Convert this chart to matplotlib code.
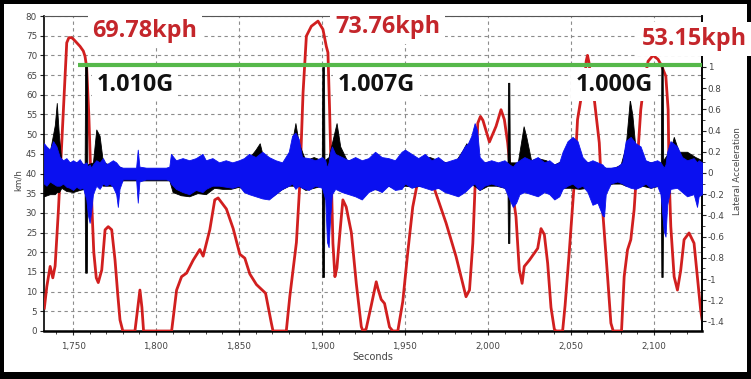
import matplotlib
matplotlib.use("Agg")
import matplotlib.pyplot as plt
from matplotlib.patches import Rectangle
from matplotlib.ticker import FuncFormatter, MultipleLocator, FixedLocator
import numpy as np

# ---------------- data ----------------
speed_t = [1732.7, 1734.2, 1736.2, 1737.8, 1739.2, 1741.2, 1743.2, 1745.2, 1746.2, 1747.5,
           1749.2, 1750.5, 1752.2, 1754.2, 1756.2, 1757.2, 1758.2, 1759.5, 1760.5, 1761.5,
           1762.5, 1764.0, 1765.2, 1767.3, 1769.3, 1771.2, 1773.3, 1775.3, 1777.0, 1778.3,
           1780.0, 1787.3, 1789.0, 1790.3, 1791.5, 1792.5, 1809.4, 1812.4, 1815.4, 1818.4,
           1822.4, 1826.4, 1828.4, 1832.4, 1835.4, 1837.4, 1842.4, 1846.5, 1850.5, 1853.5,
           1856.5, 1860.5, 1866.0, 1869.5, 1870.5, 1878.5, 1880.6, 1882.6, 1884.6, 1886.6,
           1888.6, 1890.6, 1893.6, 1897.6, 1900.6, 1902.6, 1903.6, 1904.6, 1905.6, 1906.6,
           1907.8, 1909.0, 1910.6, 1912.6, 1914.6, 1917.7, 1920.7, 1923.7, 1924.7, 1926.6,
           1929.7, 1932.7, 1933.7, 1935.7, 1937.7, 1940.7, 1942.7, 1945.7, 1948.7, 1951.7,
           1954.7, 1957.7, 1960.0, 1963.0, 1965.0, 1967.8, 1974.8, 1980.8, 1984.8, 1986.8,
           1988.9, 1990.9, 1992.5, 1993.9, 1995.5, 1997.0, 2000.9, 2004.9, 2007.9, 2009.9,
           2011.9, 2014.9, 2016.9, 2018.9, 2020.6, 2021.9, 2025.0, 2030.0, 2032.0, 2034.0,
           2036.0, 2038.0, 2040.0, 2041.0, 2045.0, 2046.5, 2049.0, 2052.0, 2054.0, 2056.0,
           2058.1, 2059.2, 2060.0, 2061.0, 2062.3, 2064.1, 2067.1, 2069.1, 2072.1, 2074.1,
           2075.5, 2080.5, 2082.1, 2084.1, 2086.1, 2088.1, 2090.1, 2092.1, 2094.1, 2096.5,
           2099.5, 2102.5, 2104.5, 2107.2, 2108.6, 2109.2, 2110.2, 2112.2, 2114.2, 2116.2,
           2118.2, 2121.2, 2124.2, 2126.2, 2128.2, 2129.0]
speed_kmh = [5.8, 11.3, 16.4, 13.5, 16.5, 30.8, 47.8, 64.7, 73.2, 74.5,
             74.5, 74.0, 73.2, 72.3, 71.1, 69.8, 67.0, 55.0, 42.0, 30.0,
             20.0, 13.5, 12.3, 15.5, 25.7, 26.5, 25.7, 18.0, 9.0, 2.8,
             0.0, 0.0, 6.0, 10.4, 6.0, 0.0, 0.0, 10.4, 13.8, 14.7,
             18.0, 20.7, 19.0, 25.7, 33.3, 33.8, 31.0, 26.0, 19.5, 18.5,
             14.5, 11.8, 9.6, 2.0, 0.0, 0.0, 8.7, 15.5, 22.5, 37.0,
             60.5, 74.9, 77.4, 78.7, 76.6, 72.3, 70.7, 56.2, 39.3, 22.3,
             13.8, 16.0, 24.0, 33.3, 31.5, 25.0, 12.0, 1.1, 0.0, 0.5,
             6.5, 12.5, 10.8, 8.0, 7.0, 1.0, 0.0, 0.0, 7.5, 20.0,
             31.5, 38.0, 42.0, 43.0, 41.0, 36.0, 27.4, 18.9, 12.1, 8.7,
             10.4, 22.3, 39.3, 52.8, 54.5, 53.5, 48.0, 52.0, 56.2, 53.7,
             47.8, 35.0, 29.1, 15.5, 12.1, 16.4, 18.0, 21.0, 26.0, 24.5,
             17.2, 6.0, 0.5, 0.0, 0.0, 6.5, 20.0, 37.5, 53.7, 58.8,
             62.0, 68.5, 70.0, 68.0, 62.0, 58.8, 47.8, 30.8, 13.8, 2.0,
             0.0, 0.0, 13.8, 20.6, 23.2, 30.8, 43.5, 56.2, 63.0, 68.5,
             70.0, 69.0, 67.5, 64.7, 56.2, 39.3, 26.5, 13.8, 10.4, 15.5,
             23.2, 24.9, 22.3, 13.8, 5.3, 3.0]

blue_t = [1732.5, 1734, 1736, 1738, 1740, 1742, 1744, 1746, 1748, 1750,
          1752, 1754, 1756, 1758, 1759, 1760, 1761, 1762, 1764, 1766,
          1768, 1770, 1772, 1774, 1776, 1777, 1778, 1780, 1784, 1788,
          1789, 1790, 1794, 1800, 1806, 1808, 1809, 1812, 1816, 1820,
          1824, 1828, 1830, 1834, 1838, 1842, 1846, 1850, 1853, 1856,
          1860, 1864, 1868, 1872, 1876, 1880, 1882, 1884, 1886, 1888,
          1892, 1896, 1900, 1902, 1903, 1904, 1905, 1906, 1908, 1912,
          1916, 1920, 1924, 1928, 1932, 1936, 1940, 1944, 1948, 1950,
          1954, 1958, 1962, 1966, 1970, 1974, 1978, 1982, 1986, 1988,
          1990, 1992, 1993.5, 1995, 1998, 2002, 2006, 2010, 2013, 2015,
          2017, 2019, 2022, 2026, 2030, 2034, 2037, 2040, 2043, 2045,
          2048, 2051, 2054, 2057, 2060, 2063, 2066, 2069, 2070, 2071,
          2074, 2078, 2081, 2083, 2086, 2089, 2092, 2095, 2098, 2102,
          2104, 2106, 2107, 2108, 2110, 2114, 2117, 2120, 2124, 2126,
          2127, 2129]
blue_hi = [0.28, 0.25, 0.22, 0.30, 0.25, 0.15, 0.12, 0.14, 0.10, 0.12,
           0.10, 0.13, 0.08, 0.10, 0.06, 0.08, 0.05, 0.08, 0.12, 0.10,
           0.14, 0.08, 0.10, 0.12, 0.10, 0.08, 0.06, 0.05, 0.05, 0.05,
           0.22, 0.06, 0.05, 0.05, 0.05, 0.06, 0.18, 0.12, 0.14, 0.12,
           0.14, 0.18, 0.12, 0.14, 0.10, 0.12, 0.10, 0.12, 0.14, 0.18,
           0.15, 0.20, 0.15, 0.12, 0.10, 0.20, 0.35, 0.38, 0.32, 0.15,
           0.14, 0.12, 0.15, 0.12, 0.05, 0.10, 0.20, 0.25, 0.18, 0.15,
           0.12, 0.15, 0.12, 0.14, 0.20, 0.15, 0.14, 0.12, 0.20, 0.22,
           0.18, 0.14, 0.18, 0.12, 0.15, 0.10, 0.12, 0.14, 0.25, 0.28,
           0.35, 0.47, 0.40, 0.15, 0.10, 0.12, 0.10, 0.12, 0.08, 0.06,
           0.10, 0.12, 0.15, 0.12, 0.15, 0.10, 0.12, 0.08, 0.10, 0.20,
           0.30, 0.34, 0.30, 0.15, 0.10, 0.12, 0.10, 0.08, 0.06, 0.05,
           0.05, 0.06, 0.10, 0.30, 0.34, 0.28, 0.25, 0.12, 0.10, 0.12,
           0.10, 0.05, 0.08, 0.20, 0.30, 0.25, 0.15, 0.12, 0.14, 0.10,
           0.12, 0.10]
blue_lo = [-0.10, -0.12, -0.08, -0.10, -0.12, -0.12, -0.10, -0.13, -0.14, -0.16,
           -0.13, -0.15, -0.14, -0.25, -0.40, -0.47, -0.35, -0.20, -0.12, -0.15,
           -0.10, -0.12, -0.10, -0.13, -0.20, -0.32, -0.15, -0.06, -0.06, -0.06,
           -0.28, -0.08, -0.06, -0.06, -0.06, -0.07, -0.10, -0.15, -0.18, -0.20,
           -0.16, -0.18, -0.15, -0.12, -0.12, -0.13, -0.14, -0.12, -0.18, -0.20,
           -0.22, -0.24, -0.25, -0.20, -0.15, -0.12, -0.10, -0.15, -0.12, -0.14,
           -0.16, -0.12, -0.14, -0.25, -0.65, -0.70, -0.40, -0.20, -0.15, -0.18,
           -0.20, -0.22, -0.25, -0.18, -0.15, -0.18, -0.12, -0.16, -0.15, -0.10,
           -0.14, -0.12, -0.14, -0.16, -0.14, -0.18, -0.20, -0.22, -0.18, -0.15,
           -0.12, -0.10, -0.14, -0.16, -0.12, -0.10, -0.12, -0.14, -0.25, -0.32,
           -0.28, -0.20, -0.18, -0.20, -0.22, -0.18, -0.20, -0.25, -0.22, -0.15,
           -0.12, -0.10, -0.14, -0.12, -0.18, -0.30, -0.28, -0.40, -0.41, -0.20,
           -0.10, -0.08, -0.10, -0.12, -0.14, -0.15, -0.13, -0.10, -0.14, -0.12,
           -0.20, -0.55, -0.60, -0.30, -0.15, -0.14, -0.18, -0.22, -0.20, -0.32,
           -0.22, -0.20]

black_t = [1732.5, 1736, 1739, 1740.2, 1741.5, 1743, 1746, 1750, 1754, 1757.0,
           1757.3, 1758.3, 1758.6, 1762, 1764, 1766, 1768, 1772, 1776, 1780,
           1789, 1800, 1808, 1810, 1815, 1820, 1825, 1830, 1835, 1840,
           1845, 1850, 1855, 1860, 1862.5, 1865, 1870, 1875, 1880, 1884,
           1886, 1890, 1895, 1899.9, 1900.2, 1901.2, 1901.5, 1904, 1908.8, 1911,
           1915, 1920, 1925, 1930, 1935, 1940, 1945, 1950, 1955, 1960,
           1965, 1970, 1975, 1980, 1985, 1987, 1990, 1995, 2000, 2005,
           2010, 2011.8, 2012.1, 2012.9, 2013.2, 2014, 2018, 2021.5, 2023, 2026,
           2030, 2035, 2040, 2045, 2050, 2055, 2060, 2065, 2070, 2075,
           2080, 2083, 2085.5, 2087, 2089, 2093, 2098, 2103, 2104.2, 2104.5,
           2105.3, 2105.6, 2110, 2112, 2115, 2120, 2125, 2129]
black_hi = [0.20, 0.20, 0.45, 0.66, 0.35, 0.10, 0.10, 0.10, 0.10, 0.08,
            1.02, 1.02, 0.08, 0.10, 0.41, 0.35, 0.10, 0.08, 0.08, 0.04,
            0.04, 0.04, 0.04, 0.08, 0.08, 0.10, 0.10, 0.10, 0.10, 0.08,
            0.08, 0.10, 0.12, 0.22, 0.28, 0.12, 0.10, 0.08, 0.12, 0.47,
            0.28, 0.12, 0.15, 0.12, 1.00, 1.00, 0.12, 0.15, 0.47, 0.25,
            0.12, 0.12, 0.10, 0.12, 0.10, 0.12, 0.10, 0.15, 0.12, 0.14,
            0.15, 0.12, 0.10, 0.10, 0.22, 0.28, 0.20, 0.10, 0.10, 0.08,
            0.10, 0.10, 0.85, 0.85, 0.10, 0.10, 0.10, 0.44, 0.35, 0.12,
            0.14, 0.12, 0.08, 0.12, 0.12, 0.14, 0.10, 0.10, 0.05, 0.04,
            0.08, 0.25, 0.69, 0.55, 0.22, 0.12, 0.10, 0.10, 0.10, 1.00,
            1.00, 0.12, 0.22, 0.34, 0.20, 0.20, 0.15, 0.12]
black_lo = [-0.22, -0.20, -0.20, -0.18, -0.18, -0.14, -0.17, -0.18, -0.16, -0.15,
            -0.94, -0.94, -0.15, -0.12, -0.10, -0.10, -0.12, -0.12, -0.12, -0.07,
            -0.07, -0.07, -0.07, -0.18, -0.21, -0.22, -0.19, -0.20, -0.14, -0.15,
            -0.15, -0.13, -0.18, -0.18, -0.20, -0.20, -0.22, -0.16, -0.12, -0.12,
            -0.12, -0.16, -0.14, -0.12, -0.98, -0.98, -0.15, -0.20, -0.12, -0.14,
            -0.16, -0.18, -0.18, -0.15, -0.16, -0.12, -0.15, -0.12, -0.13, -0.12,
            -0.12, -0.14, -0.15, -0.16, -0.14, -0.12, -0.10, -0.16, -0.12, -0.12,
            -0.14, -0.14, -0.66, -0.66, -0.14, -0.16, -0.15, -0.14, -0.15, -0.18,
            -0.18, -0.15, -0.18, -0.14, -0.14, -0.15, -0.14, -0.22, -0.12, -0.10,
            -0.10, -0.12, -0.12, -0.12, -0.14, -0.12, -0.14, -0.12, -0.12, -0.98,
            -0.98, -0.18, -0.12, -0.12, -0.14, -0.18, -0.16, -0.15]

threshold_g = 1.02
threshold_start = 1753
speed_labels = ["69.78kph", "73.76kph", "53.15kph"]
g_labels = ["1.010G", "1.007G", "1.000G"]
x_ticks = [1750, 1800, 1850, 1900, 1950, 2000, 2050, 2100]
left_ticks = list(range(0, 81, 5))
right_ticks = [-1.4, -1.2, -1.0, -0.8, -0.6, -0.4, -0.2, 0.0, 0.2, 0.4, 0.6, 0.8, 1.0]

# ---------------- figure ----------------
W, H = 751, 379
fig = plt.figure(figsize=(W / 100, H / 100), dpi=100, facecolor="black")
fig.add_artist(Rectangle((4 / W, 7 / H), 743 / W, 368 / H, transform=fig.transFigure,
                         facecolor="white", edgecolor="none", zorder=-10))

def fx(px):
    return px / W

def fy(py):
    return 1 - py / H

ax = fig.add_axes([fx(44), fy(331), (702 - 44) / W, (331 - 16) / H])
ax.set_facecolor("white")
ax.set_xlim(1732.5, 2129)
ax.set_ylim(0, 80)

tick_color = "#444444"
tfs = 6.3
ax.set_xticks(x_ticks)
ax.xaxis.set_minor_locator(MultipleLocator(10))
ax.xaxis.set_major_formatter(FuncFormatter(lambda v, p: f"{v:,.0f}"))
ax.set_yticks(left_ticks)
ax.tick_params(axis="both", which="major", labelsize=tfs, labelcolor=tick_color,
               length=3, width=0.8, color="#222222")
ax.tick_params(axis="x", pad=5)
ax.tick_params(axis="y", pad=2)
ax.tick_params(axis="x", which="minor", length=2, width=0.6, color="#222222")

ax.grid(True, which="major", linestyle=(0, (3, 3)), color="#8c8c8c", linewidth=0.8)
ax.set_axisbelow(True)

for s in ["left", "right"]:
    ax.spines[s].set_linewidth(1.2)
    ax.spines[s].set_color("black")
ax.spines["bottom"].set_linewidth(1.8)
ax.spines["bottom"].set_color("black")
ax.spines["top"].set_linewidth(0.8)
ax.spines["top"].set_color("#555555")

ax.plot(speed_t, speed_kmh, color="#d11f1f", linewidth=2.0, zorder=3, solid_joinstyle="round")

ax2 = ax.twinx()
ax2.set_ylim(-1.49, 1.48)
ax2.set_yticks(right_ticks)
ax2.yaxis.set_minor_locator(FixedLocator([v / 10 for v in range(-14, 11)]))
ax2.yaxis.set_major_formatter(FuncFormatter(lambda v, p: f"{round(v, 1):g}"))
ax2.tick_params(axis="y", which="major", labelsize=tfs, labelcolor=tick_color,
                length=3, width=0.8, color="#222222", pad=1)
ax2.tick_params(axis="y", which="minor", length=2, width=0.6, color="#222222")
ax2.spines["right"].set_linewidth(1.2)
ax2.spines["right"].set_color("black")
for s in ["top", "bottom", "left"]:
    ax2.spines[s].set_visible(False)

ax2.fill_between(black_t, black_lo, black_hi, color="black", linewidth=0.6, zorder=2)
ax2.fill_between(blue_t, blue_lo, blue_hi, color="#0a10f0", linewidth=0.6, zorder=3)
ax2.plot([threshold_start, 2129], [threshold_g, threshold_g], color="#56b84a",
         linewidth=3.0, solid_capstyle="butt", zorder=5)

# axis titles
fig.text(fx(18), fy(180), "km/h", rotation=90, ha="center", va="center",
         fontsize=tfs, color=tick_color)
fig.text(fx(737), fy(171), "Lateral Acceleration", rotation=90, ha="center", va="center",
         fontsize=tfs, color=tick_color)
fig.text(fx(373), fy(357), "Seconds", ha="center", va="center", fontsize=7, color=tick_color)

# annotations
box = dict(boxstyle="square,pad=0.2", facecolor="white", edgecolor="none")
speed_pos = [(92.5, 37.3), (335, 33.3), (641.5, 45)]
g_pos = [(96.5, 90.7), (338, 90.7), (576, 90.7)]
for lab, (px, py) in zip(speed_labels, speed_pos):
    fig.text(fx(px), fy(py), lab, ha="left", va="baseline", fontsize=16.8,
             fontweight="bold", family=["Open Sans", "DejaVu Sans"], color="#c4262b",
             bbox=box, zorder=10)
for lab, (px, py) in zip(g_labels, g_pos):
    fig.text(fx(px), fy(py), lab, ha="left", va="baseline", fontsize=16.8,
             fontweight="bold", family=["Open Sans", "DejaVu Sans"], color="#111111",
             bbox=box, zorder=10)

fig.savefig("out.png", dpi=100, facecolor=fig.get_facecolor())
